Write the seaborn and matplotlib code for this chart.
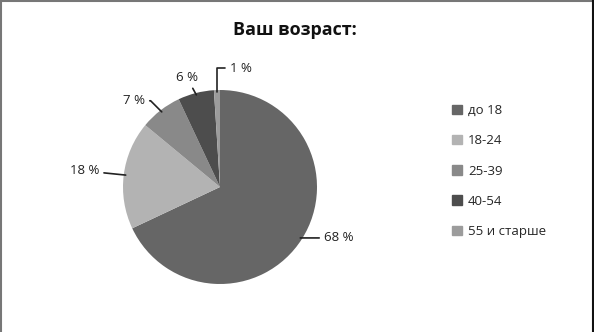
import numpy as np
import matplotlib
matplotlib.use("Agg")
import matplotlib.pyplot as plt
from matplotlib.lines import Line2D
import seaborn as sns

categories = ["до 18", "18-24", "25-39", "40-54", "55 и старше"]
values = [68, 18, 7, 6, 1]
labels = ["68 %", "18 %", "7 %", "6 %", "1 %"]
title = "Ваш возраст:"

colors = ["#666666", "#b3b3b3", "#898989", "#4d4d4d", "#9c9c9c"]

sns.set_theme(style="white")
plt.rcParams['font.family'] = ['Open Sans', 'DejaVu Sans']

fig = plt.figure(figsize=(5.94, 3.32), dpi=100)
fig.patch.set_facecolor("white")

# pie axes: centre ~ (220,187) px, radius ~97 px
cx, cy, r = 220, 187, 97
W, H = 594, 332
ax = fig.add_axes([(cx - r) / W, 1 - (cy + r) / H, 2 * r / W, 2 * r / H])
wedges, _ = ax.pie(values, colors=colors, startangle=90, counterclock=False,
                   wedgeprops=dict(linewidth=0))
ax.set_aspect("equal")
ax.set_xlim(-1, 1)
ax.set_ylim(-1, 1)

# label layout: offsets in points, alignment, connection style
layout = [
    ((17, 0), "left", "center", "arc3"),
    ((-19, 3), "right", "center", "arc3"),
    ((-12, 8), "right", "center", "angle,angleA=0,angleB=135,rad=0"),
    ((1, 8), "right", "bottom", "arc3"),
    ((9, 17), "left", "center", "angle,angleA=0,angleB=90,rad=0"),
]
for w, lab, (off, ha, va, cs) in zip(wedges, labels, layout):
    ang = np.deg2rad((w.theta1 + w.theta2) / 2)
    x, y = np.cos(ang), np.sin(ang)
    ax.annotate(lab, xy=(x * 0.98, y * 0.98), xytext=off, textcoords="offset points",
                ha=ha, va=va, fontsize=9.5, color="#222222",
                arrowprops=dict(arrowstyle="-", color="#222222", lw=1.2,
                                connectionstyle=cs, shrinkA=1, shrinkB=0))

fig.text(295 / W, 1 - 30 / H, title, ha="center", va="center",
         fontsize=13, fontweight="bold", color="#111111")

handles = [plt.Rectangle((0, 0), 1, 1, color=c) for c in colors]
leg = fig.legend(handles, categories, loc="upper left",
                 bbox_to_anchor=(447 / W, 1 - 99 / H), frameon=False,
                 fontsize=9.5, handlelength=0.7, handleheight=0.7,
                 handletextpad=0.5, labelspacing=1.3, borderaxespad=0)

# frame lines
fig.add_artist(Line2D([0.5 / W, 0.5 / W], [0, 1], color="#777777", lw=1.5,
                      transform=fig.transFigure))
fig.add_artist(Line2D([0, 1], [1 - 0.5 / H, 1 - 0.5 / H], color="#777777", lw=1.5,
                      transform=fig.transFigure))
fig.add_artist(Line2D([592.5 / W, 592.5 / W], [0, 1], color="#111111", lw=1.5,
                      transform=fig.transFigure))

fig.savefig("out.png", dpi=100, facecolor="white")
